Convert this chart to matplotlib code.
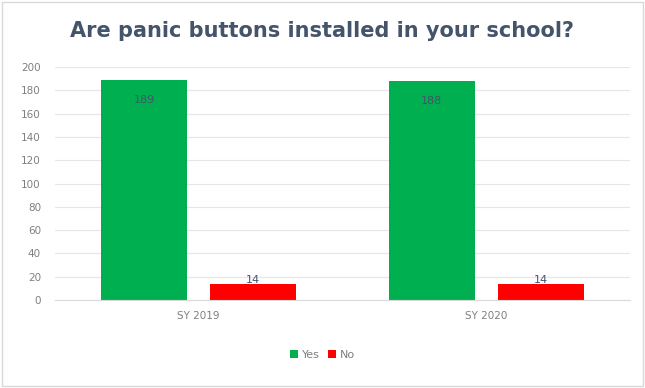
import numpy as np
import matplotlib.pyplot as plt
from matplotlib.patches import Rectangle

categories = ['SY 2019', 'SY 2020']
yes_vals = [189, 188]
no_vals = [14, 14]

fig = plt.figure(figsize=(6.45, 3.88), dpi=100)
ax = fig.add_axes([0.085, 0.227, 0.892, 0.6])

x = np.arange(len(categories))
bw = 0.30
off = 0.19
b1 = ax.bar(x - off, yes_vals, bw, color='#00b050', label='Yes')
b2 = ax.bar(x + off, no_vals, bw, color='#ff0000', label='No')

# value labels near the top of each bar
for rect, v in zip(b1, yes_vals):
    ax.text(rect.get_x() + rect.get_width() / 2, v - 17, str(v),
            ha='center', va='center', fontsize=8, color='#44546a')
for rect, v in zip(b2, no_vals):
    ax.text(rect.get_x() + rect.get_width() / 2, v - 1, str(v),
            ha='center', va='bottom', fontsize=8, color='#44546a')

ax.set_xlim(-0.5, 1.5)
ax.set_ylim(0, 200)
ax.set_yticks(range(0, 201, 20))
ax.set_xticks(x)
ax.set_xticklabels(categories)
ax.tick_params(axis='both', length=0, labelsize=7.5, colors='#7f7f7f')
ax.tick_params(axis='y', pad=10)
ax.tick_params(axis='x', pad=8)
ax.grid(axis='y', color='#e6e6e6', linewidth=0.8)
ax.set_axisbelow(True)
for s in ['top', 'right', 'left']:
    ax.spines[s].set_visible(False)
ax.spines['bottom'].set_color('#d9d9d9')

fig.suptitle('Are panic buttons installed in your school?', y=0.945,
             fontsize=15, fontweight='bold', color='#44546a')

fig.legend(handles=[b1, b2], loc='center', bbox_to_anchor=(0.5, 0.085),
           ncol=2, frameon=False, fontsize=8, handlelength=0.7,
           handleheight=0.7, handletextpad=0.3, columnspacing=0.8,
           labelcolor='#7f7f7f')

fig.patches.append(Rectangle((0.003, 0.005), 0.994, 0.99, transform=fig.transFigure,
                             fill=False, edgecolor='#d9d9d9', linewidth=1))

fig.savefig('out.png', dpi=100)
